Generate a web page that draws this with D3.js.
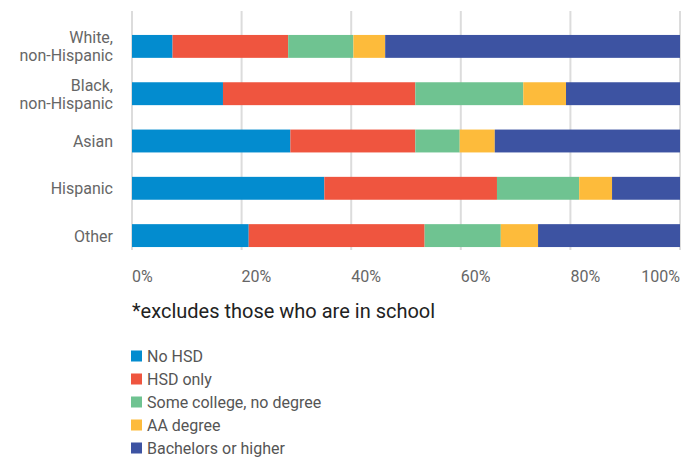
<!DOCTYPE html>
<html>
<head>
<meta charset="utf-8">
<script src="https://cdn.jsdelivr.net/npm/d3@7"></script>
<style>
  body { margin: 0; background: #fff; }
  svg { font-family: Roboto, "Noto Sans", sans-serif; }
</style>
</head>
<body>
<svg id="chart" width="692" height="460"></svg>
<script>
// groups, top to bottom
const groups = ['White,\nnon-Hispanic', 'Black,\nnon-Hispanic', 'Asian', 'Hispanic', 'Other'];
const levels = ['No HSD', 'HSD only', 'Some college, no degree', 'AA degree', 'Bachelors or higher'];
const colors = ['#038ccf', '#ef553f', '#6fc391', '#fdbb3b', '#3d53a2'];
// shares (%) per group, same order as levels
const noHsd     = [7.4, 16.6, 28.9, 35.1, 21.3];
const hsdOnly   = [21.1, 35.1, 22.8, 31.5, 32.1];
const someColl  = [11.9, 19.7, 8.1, 15.0, 13.9];
const aaDegree  = [5.8, 7.8, 6.4, 6.0, 6.8];
const bachelors = [53.8, 20.8, 33.8, 12.4, 25.9];
const xTicks = [0, 20, 40, 60, 80, 100];
const note = '*excludes those who are in school';

const series = [noHsd, hsdOnly, someColl, aaDegree, bachelors];
const rows = groups.map((g, i) => {
  const r = {group: g};
  levels.forEach((l, j) => r[l] = series[j][i]);
  return r;
});
const stacked = d3.stack().keys(levels)(rows);

const svg = d3.select('#chart');
const x = d3.scaleLinear().domain([0, 100]).range([132, 680]);
const y = d3.scaleBand().domain(groups).range([22.75, 259.25])
  .paddingInner(0.516).paddingOuter(0.258);
const color = d3.scaleOrdinal().domain(levels).range(colors);

// grid
svg.append('g').selectAll('line').data(xTicks).join('line')
  .attr('x1', d => x(d)).attr('x2', d => x(d))
  .attr('y1', 11).attr('y2', 250)
  .attr('stroke', '#dcdcdc').attr('stroke-width', 2);

// bars
svg.append('g').selectAll('g').data(stacked).join('g')
  .attr('fill', d => color(d.key))
  .selectAll('rect').data(d => d).join('rect')
  .attr('x', d => x(d[0]))
  .attr('width', d => x(d[1]) - x(d[0]))
  .attr('y', d => y(d.data.group))
  .attr('height', y.bandwidth());

// category labels
const lab = svg.append('g').selectAll('text').data(groups).join('text')
  .attr('text-anchor', 'end')
  .attr('fill', '#666')
  .attr('font-size', 16);
lab.each(function(d) {
  const lines = d.split('\n');
  const cy = y(d) + y.bandwidth() / 2;
  const t = d3.select(this);
  lines.forEach((s, i) => {
    t.append('tspan').attr('x', 113)
      .attr('y', cy + (i - (lines.length - 1) / 2) * 18 + 6)
      .text(s);
  });
});

// x tick labels
svg.append('g').selectAll('text').data(xTicks).join('text')
  .attr('x', d => x(d))
  .attr('y', 282)
  .attr('text-anchor', d => d === 100 ? 'end' : 'start')
  .attr('fill', '#666')
  .attr('font-size', 16)
  .text(d => d + '%');

// footnote
svg.append('text').attr('x', 132).attr('y', 318)
  .attr('fill', '#222').attr('font-size', 20).text(note);

// legend
const leg = svg.append('g').selectAll('g').data(levels).join('g')
  .attr('transform', (d, i) => `translate(131,${356 + i * 23})`);
leg.append('rect').attr('x', 0).attr('y', -5.5).attr('width', 11).attr('height', 11)
  .attr('fill', d => color(d));
leg.append('text').attr('x', 16).attr('y', 6)
  .attr('fill', '#555').attr('font-size', 16).text(d => d);
</script>
</body>
</html>
